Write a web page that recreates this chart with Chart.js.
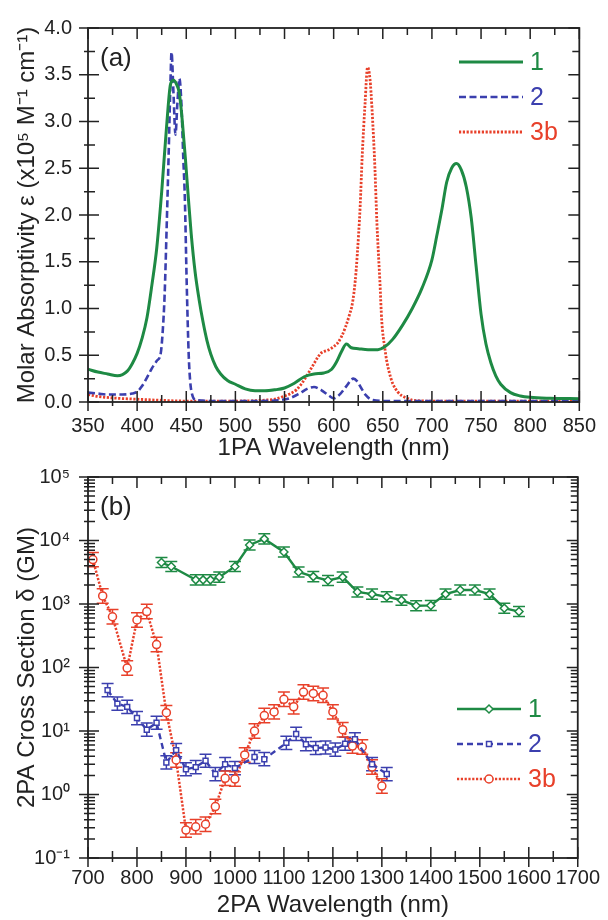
<!DOCTYPE html>
<html lang="en">
<head>
<meta charset="utf-8">
<script src="https://cdn.jsdelivr.net/npm/chart.js@4.4.1/dist/chart.umd.min.js"></script>
<style>
  html, body { margin: 0; padding: 0; background: #fff; }
  #wrap { position: relative; width: 608px; height: 920px; overflow: hidden; }
  #chartA { position: absolute; left: 0; top: 0; }
  #chartB { position: absolute; left: 0; top: 440px; }
</style>
</head>
<body>
<div id="wrap">
  <canvas id="chartA" width="608" height="470"></canvas>
  <canvas id="chartB" width="608" height="480"></canvas>
</div>
<script>
const FONT = "'Liberation Sans', Arial, Helvetica, sans-serif";
const INK = '#222';
const GREEN = '#1e8a44';
const BLUE = '#3b3fae';
const RED = '#e8402a';

// ---- panel (a): 1PA spectra, epsilon in 1e5 M^-1 cm^-1
const nm1 = [350,360,370,380,390,395,400,405,410,415,420,425,430,434,437,440,443,446,449,452,455,459,463,467,471,475,480,485,492,500,510,520,530,540,550,560,570,580,590,598,603,608,613,618,625,635,645,652,660,670,680,690,700,705,710,715,720,725,730,735,740,745,750,755,760,765,770,780,790,800,820,850];
const eps1 = [0.35,0.32,0.30,0.28,0.33,0.41,0.52,0.68,0.90,1.25,1.65,2.25,2.95,3.40,3.44,3.40,3.30,3.00,2.62,2.20,1.80,1.39,1.10,0.86,0.66,0.51,0.38,0.30,0.23,0.19,0.14,0.12,0.12,0.13,0.15,0.20,0.27,0.30,0.31,0.35,0.43,0.54,0.62,0.58,0.57,0.56,0.56,0.59,0.67,0.82,1.00,1.22,1.52,1.78,2.05,2.35,2.50,2.55,2.48,2.30,1.97,1.45,0.94,0.62,0.42,0.28,0.19,0.10,0.065,0.05,0.04,0.035];

const nm2 = [350,360,370,385,395,400,405,410,415,420,424,426,428,430,432,434,435,437,439,441,443,445,447,448.5,450.5,452.5,454,456,460,480,520,545,555,565,573,580,587,595,600,607,613,620,624,628,633,640,660,850];
const eps2 = [0.10,0.09,0.08,0.08,0.09,0.11,0.17,0.26,0.36,0.44,0.52,0.75,1.15,1.85,2.62,3.45,3.74,3.30,2.86,3.20,3.46,3.20,2.60,2.20,1.25,0.50,0.22,0.08,0.02,0.01,0.01,0.02,0.04,0.09,0.14,0.16,0.13,0.07,0.04,0.09,0.17,0.25,0.22,0.15,0.07,0.02,0.01,0.01];

const nm3b = [350,360,380,400,420,450,500,530,540,549,556,562,567,572,576,580,584,588,593,597,601,604,608,612,616,619,622,624,627,629,632,634.5,637,639,642,644,647,649,652,654,657,660,665,669,675,680,700,850];
const eps3b = [0.08,0.06,0.04,0.03,0.02,0.01,0.01,0.02,0.03,0.06,0.09,0.13,0.19,0.27,0.34,0.41,0.48,0.53,0.55,0.57,0.60,0.63,0.70,0.80,0.93,1.05,1.30,1.57,2.10,2.62,3.20,3.58,3.45,3.14,2.50,1.92,1.30,0.86,0.58,0.44,0.30,0.20,0.11,0.07,0.04,0.02,0.01,0.01];

const ticksAx = [350,400,450,500,550,600,650,700,750,800,850];
const ticksAy = [0,0.5,1,1.5,2,2.5,3,3.5,4];
const labelsAy = ['0.0','0.5','1.0','1.5','2.0','2.5','3.0','3.5','4.0'];

// ---- panel (b): 2PA cross sections in GM
const tpaNm1 = [850,870,920,935,950,968,1000,1030,1060,1100,1130,1160,1190,1220,1250,1280,1310,1340,1370,1400,1430,1460,1490,1520,1550,1580];
const tpa1 = [4500,3900,2400,2400,2400,2650,3900,8500,10600,6600,3200,2700,2350,2650,1550,1430,1300,1150,940,950,1430,1660,1660,1430,860,760];

const tpaNm2 = [740,760,780,800,820,840,860,880,900,920,940,960,980,1000,1040,1060,1105,1125,1145,1165,1185,1205,1225,1245,1280,1310];
const tpa2 = [44,27,24,16,10.5,13.5,3.2,5.0,2.5,2.7,3.4,2.1,3.0,2.6,3.9,3.6,6.5,9.0,6.2,5.4,5.5,5.1,6.3,7.4,3.0,2.1];

const tpaNm3b = [710,730,750,780,800,820,840,860,880,900,920,940,960,980,1000,1020,1040,1060,1080,1100,1120,1140,1160,1180,1200,1220,1240,1260,1280,1300];
const tpa3b = [5000,1340,630,98,560,760,230,19.4,3.5,0.275,0.31,0.34,0.645,1.8,1.75,4.2,10,17.5,20,31.6,24,41,39,36.5,20,10.5,5.8,5.6,2.7,1.36];

// relative error bar size per series
const err1 = 0.2, err2 = 0.27, err3b = 0.3;

const ticksBx = [700,800,900,1000,1100,1200,1300,1400,1500,1600,1700];
const ticksBy = [0.1,1,10,100,1000,10000,100000];
const labelsBy = ['10\u207B\u00B9','10\u2070','10\u00B9','10\u00B2','10\u00B3','10\u2074','10\u2075'];

const pts = (xs, ys) => xs.map((v, i) => ({ x: v, y: ys[i] }));

// box frame with major/minor ticks on all four sides
function linearMinors(major) {
  const out = [];
  for (let i = 0; i < major.length - 1; i++) out.push((major[i] + major[i + 1]) / 2);
  return out;
}
function logMinors(major) {
  const out = [];
  for (let i = 0; i < major.length - 1; i++)
    for (let k = 2; k <= 9; k++) out.push(major[i] * k);
  return out;
}
const frameTicks = {
  id: 'frameTicks',
  afterDraw(chart, args, o) {
    const { ctx, chartArea: a } = chart;
    const x = chart.scales.x, y = chart.scales.y;
    ctx.save();
    ctx.setLineDash([]);
    ctx.strokeStyle = INK;
    ctx.lineWidth = 1.8;
    ctx.strokeRect(a.left, a.top, a.right - a.left, a.bottom - a.top);
    ctx.lineWidth = 1.5;
    ctx.beginPath();
    const xt = (v, tin, tout) => {
      const p = x.getPixelForValue(v);
      ctx.moveTo(p, a.bottom + tout); ctx.lineTo(p, a.bottom - tin);
      ctx.moveTo(p, a.top); ctx.lineTo(p, a.top + tin);
    };
    const yt = (v, tin, tout) => {
      const p = y.getPixelForValue(v);
      ctx.moveTo(a.left - tout, p); ctx.lineTo(a.left + tin, p);
      ctx.moveTo(a.right, p); ctx.lineTo(a.right - tin, p);
    };
    o.xMajor.forEach(v => xt(v, 11, 9));
    linearMinors(o.xMajor).forEach(v => xt(v, 7, 4));
    o.yMajor.forEach(v => yt(v, 11, 9));
    (o.log ? logMinors(o.yMajor) : linearMinors(o.yMajor)).forEach(v => yt(v, 7, 4));
    ctx.stroke();
    ctx.restore();
  }
};

// error bars for the 2PA points
const errorBars = {
  id: 'errorBars',
  beforeDatasetsDraw(chart) {
    const { ctx } = chart;
    const x = chart.scales.x, y = chart.scales.y;
    chart.data.datasets.forEach(ds => {
      if (!ds.errFrac) return;
      ctx.save();
      ctx.setLineDash([]);
      ctx.strokeStyle = ds.borderColor;
      ctx.lineWidth = 1.5;
      ctx.beginPath();
      ds.data.forEach(p => {
        const px = x.getPixelForValue(p.x);
        const hi = y.getPixelForValue(p.y * (1 + ds.errFrac));
        const lo = y.getPixelForValue(p.y / (1 + ds.errFrac));
        ctx.moveTo(px, hi); ctx.lineTo(px, lo);
        ctx.moveTo(px - 6, hi); ctx.lineTo(px + 6, hi);
        ctx.moveTo(px - 6, lo); ctx.lineTo(px + 6, lo);
      });
      ctx.stroke();
      ctx.restore();
    });
  }
};

// legend inside the plot with coloured labels
const seriesLegend = {
  id: 'seriesLegend',
  afterDraw(chart, args, o) {
    const ctx = chart.ctx;
    ctx.save();
    chart.data.datasets.forEach((ds, i) => {
      const yy = o.y + i * o.dy;
      ctx.strokeStyle = ds.borderColor;
      ctx.lineWidth = ds.borderWidth;
      ctx.setLineDash(ds.borderDash || []);
      ctx.beginPath();
      ctx.moveTo(o.x, yy);
      ctx.lineTo(o.x + o.len, yy);
      ctx.stroke();
      if (ds.pointRadius) {
        ctx.setLineDash([]);
        ctx.fillStyle = '#fff';
        ctx.lineWidth = ds.pointBorderWidth;
        Chart.helpers.drawPoint(ctx, { pointStyle: ds.pointStyle, radius: ds.pointRadius, borderWidth: ds.pointBorderWidth, rotation: 0 }, o.x + o.len / 2, yy);
      }
      ctx.fillStyle = ds.borderColor;
      ctx.font = '25px ' + FONT;
      ctx.textBaseline = 'middle';
      ctx.textAlign = 'left';
      ctx.fillText(ds.label, o.x + o.len + 7, yy + 1);
    });
    ctx.restore();
  }
};

const panelLabel = {
  id: 'panelLabel',
  afterDraw(chart, args, o) {
    const { ctx, chartArea: a } = chart;
    ctx.save();
    ctx.fillStyle = INK;
    ctx.font = '26px ' + FONT;
    ctx.textBaseline = 'middle';
    ctx.fillText(o.text, a.left + 12, a.top + 31);
    ctx.restore();
  }
};

Chart.defaults.font.family = FONT;
Chart.defaults.color = INK;

function axisBase(ticks, labels, pad) {
  return {
    grid: { display: false, drawTicks: false },
    border: { display: false },
    afterBuildTicks: s => { s.ticks = ticks.map(v => ({ value: v })); },
    ticks: {
      font: { size: 20 }, color: INK, padding: pad, maxRotation: 0, autoSkip: false,
      callback: (v, i) => labels ? labels[i] : String(v)
    }
  };
}

new Chart(document.getElementById('chartA'), {
  type: 'line',
  data: {
    datasets: [
      { label: '1', data: pts(nm1, eps1), borderColor: GREEN, borderWidth: 3, pointRadius: 0, cubicInterpolationMode: 'monotone' },
      { label: '2', data: pts(nm2, eps2), borderColor: BLUE, borderWidth: 2.6, borderDash: [7, 3.5], pointRadius: 0, cubicInterpolationMode: 'monotone' },
      { label: '3b', data: pts(nm3b, eps3b), borderColor: RED, borderWidth: 2.8, borderDash: [2.2, 1.6], pointRadius: 0, cubicInterpolationMode: 'monotone' }
    ]
  },
  options: {
    responsive: false, animation: false, events: [],
    layout: { padding: { top: 22, right: 22, left: 0, bottom: 0 } },
    plugins: {
      legend: { display: false }, tooltip: { enabled: false },
      frameTicks: { xMajor: ticksAx, yMajor: ticksAy, log: false },
      seriesLegend: { x: 459, len: 64, y: 62, dy: 35 },
      panelLabel: { text: '(a)' }
    },
    scales: {
      x: Object.assign(axisBase(ticksAx, null, 12), {
        type: 'linear', min: 350, max: 850,
        title: { display: true, text: '1PA Wavelength (nm)', font: { size: 24 }, color: INK, padding: { top: 0, bottom: 7 } },
        afterFit: s => { s.height = 68; }
      }),
      y: Object.assign(axisBase(ticksAy, labelsAy, 16), {
        type: 'linear', min: 0, max: 4,
        title: { display: true, text: 'Molar Absorptivity \u03B5 (x10\u2075 M\u207B\u00B9 cm\u207B\u00B9)', font: { size: 24 }, color: INK, padding: { top: 13, bottom: 0 } },
        afterFit: s => { s.width = 88; }
      })
    }
  },
  plugins: [frameTicks, seriesLegend, panelLabel]
});

new Chart(document.getElementById('chartB'), {
  type: 'line',
  data: {
    datasets: [
      { label: '1', data: pts(tpaNm1, tpa1), errFrac: err1, borderColor: GREEN, borderWidth: 2.4, tension: 0,
        pointStyle: 'rectRot', pointRadius: 4, pointBorderWidth: 1.5, pointBorderColor: GREEN, pointBackgroundColor: '#fff' },
      { label: '2', data: pts(tpaNm2, tpa2), errFrac: err2, borderColor: BLUE, borderWidth: 2.4, borderDash: [6, 4], tension: 0,
        pointStyle: 'rect', pointRadius: 3.5, pointBorderWidth: 1.5, pointBorderColor: BLUE, pointBackgroundColor: '#fff' },
      { label: '3b', data: pts(tpaNm3b, tpa3b), errFrac: err3b, borderColor: RED, borderWidth: 2.5, borderDash: [2.2, 1.6], tension: 0,
        pointStyle: 'circle', pointRadius: 4, pointBorderWidth: 1.5, pointBorderColor: RED, pointBackgroundColor: '#fff' }
    ]
  },
  options: {
    responsive: false, animation: false, events: [],
    layout: { padding: { top: 37, right: 22, left: 0, bottom: 0 } },
    plugins: {
      legend: { display: false }, tooltip: { enabled: false },
      frameTicks: { xMajor: ticksBx, yMajor: ticksBy, log: true },
      seriesLegend: { x: 457, len: 64, y: 269, dy: 35 },
      panelLabel: { text: '(b)' }
    },
    scales: {
      x: Object.assign(axisBase(ticksBx, null, 8), {
        type: 'linear', min: 700, max: 1700,
        title: { display: true, text: '2PA Wavelength (nm)', font: { size: 24 }, color: INK, padding: { top: 0, bottom: 0 } },
        afterFit: s => { s.height = 62; }
      }),
      y: Object.assign(axisBase(ticksBy, labelsBy, 18), {
        type: 'logarithmic', min: 0.1, max: 100000,
        title: { display: true, text: '2PA Cross Section \u03B4 (GM)', font: { size: 24 }, color: INK, padding: { top: 13, bottom: 0 } },
        afterFit: s => { s.width = 88; }
      })
    }
  },
  plugins: [errorBars, frameTicks, seriesLegend, panelLabel]
});
</script>
</body>
</html>
